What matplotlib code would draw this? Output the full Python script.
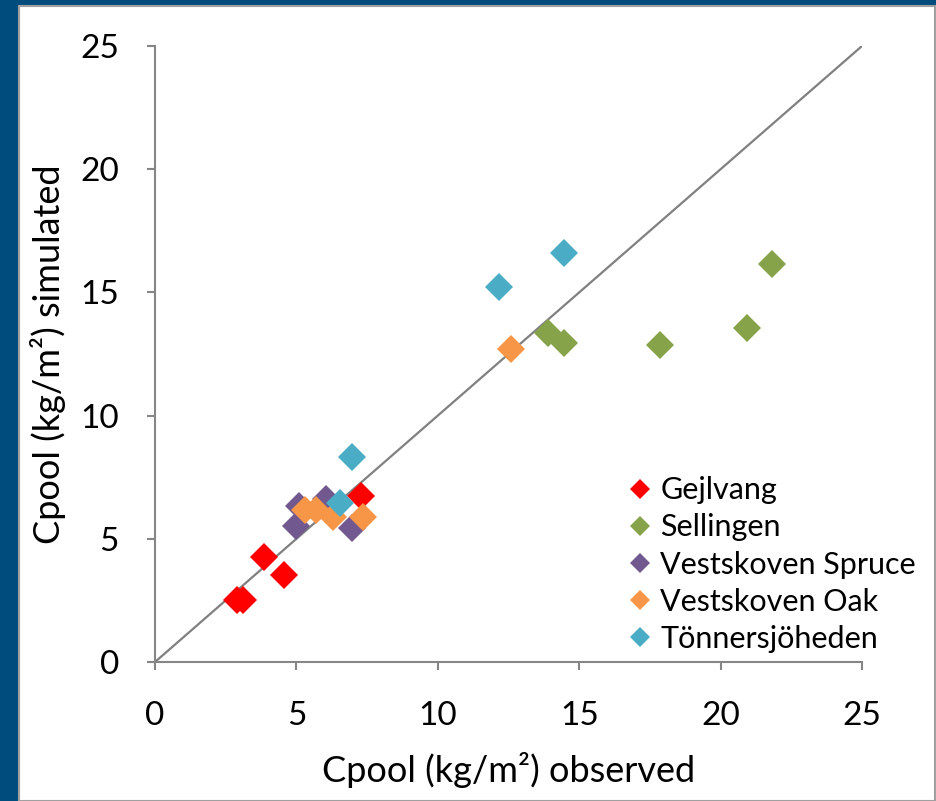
import matplotlib
matplotlib.use("Agg")
import matplotlib.pyplot as plt
from matplotlib.patches import Rectangle

plt.rcParams['font.family'] = ['Lato', 'DejaVu Sans']

# observed / simulated Cpool (kg/m2) per site
gejlvang_obs = [2.9, 3.1, 3.85, 4.55, 7.3]
gejlvang_sim = [2.5, 2.5, 4.25, 3.55, 6.75]

sellingen_obs = [13.9, 14.45, 17.85, 20.95, 21.8]
sellingen_sim = [13.35, 12.95, 12.85, 13.55, 16.15]

spruce_obs = [5.1, 5.0, 6.05, 6.95]
spruce_sim = [6.35, 5.5, 6.6, 5.45]

oak_obs = [5.3, 5.7, 6.3, 7.35, 12.6]
oak_sim = [6.15, 6.15, 5.9, 5.9, 12.7]

tonner_obs = [12.15, 14.45, 6.95, 6.55]
tonner_sim = [15.2, 16.6, 8.3, 6.45]

series = [
    ("Gejlvang", gejlvang_obs, gejlvang_sim, "#FF0000"),
    ("Sellingen", sellingen_obs, sellingen_sim, "#86A349"),
    ("Vestskoven Spruce", spruce_obs, spruce_sim, "#71588F"),
    ("Vestskoven Oak", oak_obs, oak_sim, "#F79646"),
    ("Tönnersjöheden", tonner_obs, tonner_sim, "#4BACC6"),
]

W, H = 936, 801
fig = plt.figure(figsize=(W / 100, H / 100), dpi=100)
fig.patch.set_facecolor("#004D7D")
# white chart area with thin grey border
bg = Rectangle((19 / W, 0), (935 - 19) / W, (H - 6) / H,
               transform=fig.transFigure, facecolor="white",
               edgecolor="#A0A0A0", linewidth=1.5, zorder=-10)
fig.add_artist(bg)

ax = fig.add_axes([155 / W, (H - 662) / H, (862 - 155) / W, (662 - 46) / H])
ax.set_facecolor("none")

ax.plot([0, 25], [0, 25], color="#808080", linewidth=1.6, zorder=1)

for name, xs, ys, col in series:
    ax.plot(xs, ys, linestyle="none", marker="D", markersize=14.5,
            color=col, markeredgewidth=0, label=name, zorder=2)

ax.set_xlim(0, 25)
ax.set_ylim(0, 25)
ax.set_xticks([0, 5, 10, 15, 20, 25])
ax.set_yticks([0, 5, 10, 15, 20, 25])

for s in ["top", "right"]:
    ax.spines[s].set_visible(False)
for s in ["left", "bottom"]:
    ax.spines[s].set_color("#868686")
    ax.spines[s].set_linewidth(1.5)

ax.tick_params(axis="both", direction="out", length=6, width=1.5,
               color="#868686", labelsize=24)
ax.tick_params(axis="y", pad=20)
ax.tick_params(axis="x", pad=22)

ax.set_xlabel("Cpool (kg/m²) observed", fontsize=26, labelpad=15)
ax.set_ylabel("Cpool (kg/m²) simulated", fontsize=26, labelpad=10)

leg = ax.legend(loc="upper left", bbox_to_anchor=(612 / W, (H - 461) / H),
                bbox_transform=fig.transFigure, frameon=False, fontsize=22,
                markerscale=0.72, handlelength=0.8, handletextpad=0.28,
                labelspacing=0.3, borderpad=0)

fig.savefig("out.png", dpi=100, facecolor=fig.get_facecolor())
